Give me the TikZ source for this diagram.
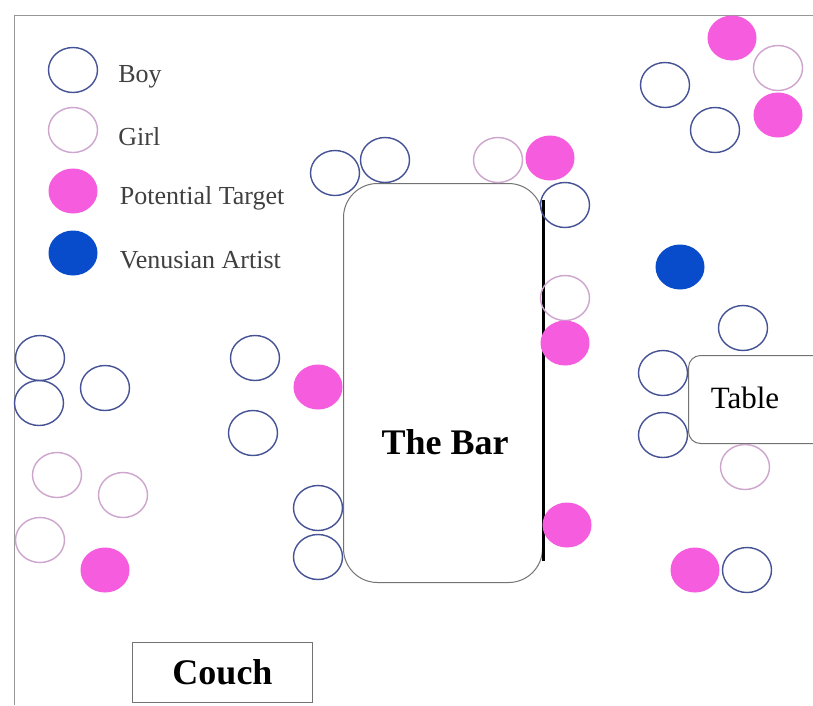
\documentclass[tikz,border=0pt]{standalone}
\usepackage{fontspec}
\setmainfont{Liberation Serif}
\usetikzlibrary{positioning,shapes.geometric}
\definecolor{boyblue}{RGB}{70,82,150}
\definecolor{girlpink}{RGB}{205,165,205}
\definecolor{targetpink}{RGB}{246,92,222}
\definecolor{artistblue}{RGB}{8,76,204}
\definecolor{framegray}{RGB}{150,150,150}
\tikzset{
  person/.style={ellipse, minimum width=49pt, minimum height=45pt, inner sep=0pt},
  boy dot/.style={person, draw=boyblue, line width=1.4pt},
  girl dot/.style={person, draw=girlpink, line width=1.4pt},
  target dot/.style={person, fill=targetpink},
  artist dot/.style={person, fill=artistblue},
  legend text/.style={font=\fontsize{26}{30}\selectfont, text=black!75, inner sep=0pt,
    anchor=west, yshift=-7pt},
  furniture/.style={draw=black!55, fill=white, line width=1pt},
}

\begin{document}
\begin{tikzpicture}[x=1pt, y=-1pt]
  \clip (0,0) rectangle (813,705);
  \fill[white] (0,0) rectangle (813,705);

  % Room border
  \draw[framegray, line width=1pt] (14,705) -- (14,15) -- (813,15);

  % Furniture
  \node[furniture, rounded corners=34pt, minimum width=199pt, minimum height=399pt,
        anchor=north west] (bar) at (343,183) {};
  \draw[line width=3pt] ([yshift=-17pt]bar.north east) -- ([yshift=22pt]bar.south east);
  \node[font=\bfseries\fontsize{36}{40}\selectfont] (barlabel) at (445,442) {The Bar};
  \node[furniture, rounded corners=12pt, minimum width=150pt, minimum height=88pt,
        anchor=north west] (table) at (688,355) {};
  \node[font=\fontsize{31}{34}\selectfont] (tablelabel) at (745,398) {Table};
  \node[furniture, minimum width=180pt, minimum height=60pt, anchor=north west,
        font=\bfseries\fontsize{36}{40}\selectfont] (couch) at (132,642) {Couch};

  % People
  \foreach \x/\y [count=\i] in {665/85, 715/130, 335/173, 385/160, 565/205, 318/508,
      318/557, 743/328, 663/373, 663/435, 747/570, 40/358, 39/403, 105/388,
      255/358, 253/433}
    \node[boy dot] (boy\i) at (\x,\y) {};
  \foreach \x/\y [count=\i] in {778/68, 498/160, 565/298, 745/467, 57/475, 123/495, 40/540}
    \node[girl dot] (girl\i) at (\x,\y) {};
  \foreach \x/\y [count=\i] in {732/38, 778/115, 550/158, 565/343, 318/387, 567/525,
      695/570, 105/570}
    \node[target dot] (target\i) at (\x,\y) {};
  \node[artist dot] (artist) at (680,267) {};

  % Legend
  \node[boy dot] (keyboy) at (73,70) {};
  \node[girl dot] (keygirl) at (73,130) {};
  \node[target dot] (keytarget) at (73,191) {};
  \node[artist dot] (keyartist) at (73,253) {};
  \node[legend text, right=20pt of keyboy] (keyboytext) {Boy};
  \node[legend text, right=20pt of keygirl] (keygirltext) {Girl};
  \node[legend text, right=22pt of keytarget] (keytargettext) {Potential Target};
  \node[legend text, right=22pt of keyartist] (keyartisttext) {Venusian Artist};
\end{tikzpicture}
\end{document}
